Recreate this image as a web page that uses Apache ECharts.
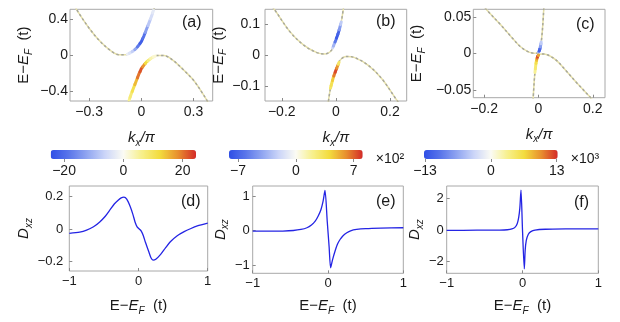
<!DOCTYPE html>
<html>
<head>
<meta charset="utf-8">
<script src="https://cdn.jsdelivr.net/npm/echarts@6/dist/echarts.min.js"></script>
<style>
  html, body { margin: 0; padding: 0; background: #fff; }
  #chart { width: 620px; height: 322px; }
</style>
</head>
<body>
<div id="chart"></div>
<script>
// ---- band structure, panel (a) ----
var kUpA = [-0.40, -0.36, -0.30, -0.24, -0.18, -0.13, -0.09, -0.06, -0.03, 0.0, 0.03, 0.06, 0.09];
var eUpA = [0.60, 0.47, 0.30, 0.16, 0.055, 0.005, 0.005, 0.03, 0.075, 0.15, 0.29, 0.44, 0.62];
var kLoA = [-0.09, -0.06, -0.03, 0.0, 0.03, 0.06, 0.09, 0.13, 0.18, 0.24, 0.30, 0.36, 0.40];
var eLoA = [-0.62, -0.44, -0.29, -0.15, -0.075, -0.03, -0.005, -0.005, -0.055, -0.16, -0.28, -0.45, -0.58];
var kBlueA = [-0.08, -0.06, -0.045, -0.03, -0.015, 0.0, 0.015, 0.03, 0.045, 0.06, 0.07];
var eBlueA = [0.01, 0.03, 0.05, 0.075, 0.11, 0.15, 0.215, 0.29, 0.365, 0.44, 0.50];
var dBlueA = [-2, -4, -7, -12, -18, -22, -19, -13, -8, -5, -3];
var kRedA = [-0.07, -0.06, -0.045, -0.03, -0.015, 0.0, 0.015, 0.03, 0.045, 0.06, 0.08];
var eRedA = [-0.50, -0.44, -0.365, -0.29, -0.215, -0.15, -0.11, -0.075, -0.05, -0.03, -0.01];
var dRedA = [6, 8, 11, 15, 20, 22, 18, 12, 7, 4, 2];

// ---- panel (b) ----
var kUpB = [-0.28, -0.226, -0.17, -0.12, -0.07, -0.04, -0.015, 0.0, 0.01, 0.02, 0.03];
var eUpB = [0.21, 0.146, 0.076, 0.033, 0.008, 0.004, 0.017, 0.049, 0.074, 0.107, 0.165];
var kLoB = [-0.03, -0.02, -0.01, 0.0, 0.015, 0.04, 0.07, 0.12, 0.17, 0.226, 0.28];
var eLoB = [-0.165, -0.107, -0.074, -0.049, -0.017, -0.004, -0.008, -0.033, -0.076, -0.146, -0.21];
var kBlueB = [-0.012, -0.006, 0.0, 0.005, 0.01, 0.015, 0.02];
var eBlueB = [0.023, 0.036, 0.049, 0.061, 0.074, 0.09, 0.107];
var dBlueB = [-2, -3.5, -6, -7.5, -7, -4.5, -2.5];
var kRedB = [-0.02, -0.015, -0.01, -0.005, 0.0, 0.006, 0.012];
var eRedB = [-0.107, -0.09, -0.074, -0.061, -0.049, -0.036, -0.023];
var dRedB = [3, 3.5, 4.5, 6.5, 7.5, 6, 3];

// ---- panel (c) ----
var kUpC = [-0.22, -0.19, -0.14, -0.10, -0.065, -0.035, -0.015, -0.003, 0.003, 0.008, 0.012, 0.016, 0.02];
var eUpC = [0.074, 0.06, 0.04, 0.023, 0.009, 0.002, 0.0005, 0.001, 0.004, 0.011, 0.022, 0.04, 0.065];
var kLoC = [-0.02, -0.016, -0.012, -0.008, -0.003, 0.003, 0.015, 0.035, 0.065, 0.10, 0.14, 0.19, 0.22];
var eLoC = [-0.065, -0.04, -0.022, -0.011, -0.004, -0.001, -0.0005, -0.002, -0.009, -0.023, -0.04, -0.06, -0.074];
var kBlueC = [0.0, 0.002, 0.004, 0.006, 0.008, 0.01];
var eBlueC = [0.0022, 0.003, 0.005, 0.0076, 0.011, 0.016];
var dBlueC = [-4, -8, -12, -11, -7, -4];
var kRedC = [-0.013, -0.01, -0.008, -0.006, -0.004, -0.002, 0.0];
var eRedC = [-0.026, -0.016, -0.011, -0.0076, -0.005, -0.003, -0.0022];
var dRedC = [3, 4.5, 6, 8, 11, 12.5, 9];

// ---- D_xz curves, panels (d) (e) (f) ----
var eD = [-1, -0.85, -0.75, -0.65, -0.56, -0.48, -0.41, -0.35, -0.29, -0.25, -0.21, -0.17, -0.12, -0.08, -0.05, -0.02, 0.015, 0.04, 0.07, 0.1, 0.15, 0.18, 0.21, 0.25, 0.32, 0.39, 0.46, 0.56, 0.66, 0.75, 0.85, 1.0];
var dD = [-0.025, -0.018, -0.006, 0.015, 0.045, 0.08, 0.12, 0.155, 0.18, 0.193, 0.197, 0.185, 0.14, 0.09, 0.045, 0.015, 0.0, -0.012, -0.04, -0.08, -0.14, -0.175, -0.19, -0.185, -0.155, -0.115, -0.077, -0.04, -0.015, 0.003, 0.02, 0.037];
var eE = [-1, -0.8, -0.6, -0.46, -0.36, -0.28, -0.22, -0.17, -0.13, -0.093, -0.065, -0.04, -0.01, 0.015, 0.035, 0.06, 0.093, 0.125, 0.16, 0.2, 0.25, 0.3, 0.38, 0.5, 0.7, 1.0];
var dE = [-0.02, -0.02, -0.015, 0.0, 0.03, 0.08, 0.16, 0.27, 0.42, 0.61, 0.85, 1.16, 0.26, -0.48, -1.08, -0.85, -0.6, -0.4, -0.26, -0.15, -0.067, -0.01, 0.03, 0.055, 0.07, 0.08];
var eF = [-1, -0.6, -0.3, -0.2, -0.14, -0.1, -0.07, -0.05, -0.035, -0.02, 0.0, 0.024, 0.035, 0.05, 0.077, 0.11, 0.165, 0.3, 0.6, 1.0];
var dF = [-0.02, -0.01, 0.0, 0.02, 0.07, 0.17, 0.4, 0.8, 1.4, 2.52, 0.0, -2.45, -1.3, -0.65, -0.27, -0.1, 0.0, 0.05, 0.07, 0.08];

// ---- tick labels ----
var xTicksA = [-0.3, 0, 0.3], yTicksA = [-0.4, 0, 0.4];
var xTicksB = [-0.2, 0, 0.2], yTicksB = [-0.1, 0, 0.1];
var xTicksC = [-0.2, 0, 0.2], yTicksC = [-0.05, 0, 0.05];
var xTicksBottom = [-1, 0, 1];
var yTicksD = [-0.2, 0, 0.2], yTicksE = [-1, 0, 1], yTicksF = [-2, 0, 2];
var cbTicksA = [-20, 0, 20], cbTicksB = [-7, 0, 7], cbTicksC = [-13, 0, 13];

var FONT = 'Liberation Sans, Arial, sans-serif';
var CMAP = ['#2f4fe6', '#5a76ea', '#91a6f1', '#ccd6f8', '#fbfbf4', '#f7f08c', '#f3dc3e', '#e8902e', '#d42a28'];

var myChart = echarts.init(document.getElementById('chart'));

function zip(a, b) { return a.map(function (v, i) { return [v, b[i]]; }); }
function fmt(v) { return v < 0 ? '\u2212' + String(-v) : String(v); }
function mid(p, q) { return [(p[0] + q[0]) / 2, (p[1] + q[1]) / 2]; }

var rich = {
  r: { fontFamily: FONT, fontSize: 15, lineHeight: 20, color: '#1a1a1a' },
  i: { fontFamily: FONT, fontSize: 15, lineHeight: 20, fontStyle: 'italic', color: '#1a1a1a' },
  s: { fontFamily: FONT, fontSize: 10, lineHeight: 10, fontStyle: 'italic', verticalAlign: 'bottom', color: '#1a1a1a' }
};
var NAME_E = '{r|E\u2212}{i|E}{s|F}{r|  (t)}';
var NAME_K = '{i|k}{s|x}{i|/\u03c0}';
var NAME_D = '{i|D}{s|xz}';

function axis(gi, min, max, ticks, opts) {
  return {
    type: 'value', gridIndex: gi, min: min, max: max,
    position: opts.pos,
    name: opts.name || '', nameLocation: 'middle', nameGap: opts.gap || 20,
    nameTextStyle: { rich: rich },
    axisLine: { show: false, onZero: false },
    splitLine: { show: false },
    axisTick: { show: true, inside: !opts.outTick, length: 3, customValues: ticks, lineStyle: { color: '#8a8a8a' } },
    axisLabel: {
      show: opts.labels !== false, customValues: ticks, formatter: fmt, margin: opts.margin || 4,
      fontFamily: FONT, fontSize: opts.size || 14, color: '#1a1a1a'
    }
  };
}

var grids = [
  { left: 70, top: 9.3, width: 142.7, height: 91.7 },
  { left: 265, top: 9.3, width: 141.7, height: 91.7 },
  { left: 473.3, top: 9.3, width: 131.7, height: 88.4 },
  { left: 69.3, top: 186, width: 138.4, height: 85 },
  { left: 252.7, top: 186, width: 150.6, height: 87.3 },
  { left: 446.7, top: 186, width: 151.6, height: 87.3 },
  { left: 50.7, top: 150, width: 145.3, height: 9 },
  { left: 229, top: 150, width: 133.7, height: 9 },
  { left: 424, top: 150, width: 133.7, height: 9 }
].map(function (g, i) {
  g.show = i < 6; g.borderColor = '#a8a8a8'; g.borderWidth = 1; g.backgroundColor = 'transparent';
  return g;
});

var xAxes = [
  axis(0, -0.41, 0.41, xTicksA, { pos: 'bottom', name: NAME_K, gap: 27 }),
  axis(1, -0.262, 0.262, xTicksB, { pos: 'bottom', name: NAME_K, gap: 27 }),
  axis(2, -0.24, 0.245, xTicksC, { pos: 'bottom', name: NAME_K, gap: 27 }),
  axis(3, -1, 1, xTicksBottom, { pos: 'bottom', name: NAME_E, gap: 25, size: 13 }),
  axis(4, -1, 1, xTicksBottom, { pos: 'bottom', name: NAME_E, gap: 23, size: 13 }),
  axis(5, -1, 1, xTicksBottom, { pos: 'bottom', name: NAME_E, gap: 23, size: 13 }),
  axis(6, -24.5, 24.5, cbTicksA, { pos: 'bottom', outTick: true, margin: 5 }),
  axis(7, -8.1, 8.1, cbTicksB, { pos: 'bottom', outTick: true, margin: 5 }),
  axis(8, -13.2, 13.2, cbTicksC, { pos: 'bottom', outTick: true, margin: 5 })
];
xAxes[7].name = '\u00d710\u00b2'; xAxes[7].nameLocation = 'end'; xAxes[7].nameGap = 13;
xAxes[8].name = '\u00d710\u00b3'; xAxes[8].nameLocation = 'end'; xAxes[8].nameGap = 13;
[7, 8].forEach(function (i) {
  xAxes[i].nameTextStyle = { fontFamily: FONT, fontSize: 14, color: '#1a1a1a', padding: [4, 0, 0, 0] };
});

var yAxes = [
  axis(0, -0.51, 0.51, yTicksA, { pos: 'left', name: NAME_E, gap: 36, margin: 2 }),
  axis(1, -0.148, 0.148, yTicksB, { pos: 'left', name: NAME_E, gap: 36, margin: 5 }),
  axis(2, -0.0608, 0.061, yTicksC, { pos: 'left', name: NAME_E, gap: 46, margin: 2 }),
  axis(3, -0.257, 0.266, yTicksD, { pos: 'left', name: NAME_D, gap: 34, size: 13, margin: 6 }),
  axis(4, -1.24, 1.29, yTicksE, { pos: 'left', name: NAME_D, gap: 22, size: 13, margin: 3 }),
  axis(5, -2.73, 2.78, yTicksF, { pos: 'left', name: NAME_D, gap: 20, size: 13, margin: 3 }),
  { type: 'value', gridIndex: 6, min: 0, max: 1, show: false },
  { type: 'value', gridIndex: 7, min: 0, max: 1, show: false },
  { type: 'value', gridIndex: 8, min: 0, max: 1, show: false }
];

var series = [];
function band(gi, ks, es) {
  series.push({
    type: 'line', xAxisIndex: gi, yAxisIndex: gi, data: zip(ks, es), smooth: 0.35,
    showSymbol: false, silent: true, z: 2, lineStyle: { color: '#e6e0a8', width: 1.5 }
  });
  series.push({
    type: 'line', xAxisIndex: gi, yAxisIndex: gi, data: zip(ks, es), smooth: 0.35,
    showSymbol: false, silent: true, z: 3, lineStyle: { color: '#a8a89c', width: 1.5, type: [2.5, 2.5] }
  });
}
function coloured(gi, ks, es, ds) {
  series.push({
    type: 'custom', xAxisIndex: gi, yAxisIndex: gi, clip: true, silent: true, z: 5,
    data: ks.map(function (k, i) { return [k, es[i], ds[i]]; }),
    encode: { x: 0, y: 1 },
    renderItem: function (params, api) {
      var i = params.dataIndex, n = ks.length;
      var p = api.coord([ks[i], es[i]]);
      var a = i > 0 ? mid(api.coord([ks[i - 1], es[i - 1]]), p) : p;
      var b = i < n - 1 ? mid(p, api.coord([ks[i + 1], es[i + 1]])) : p;
      return {
        type: 'polyline', shape: { points: [a, p, b] },
        style: { stroke: api.visual('color'), fill: null, lineWidth: 3, lineCap: 'round', lineJoin: 'round' }
      };
    }
  });
  return series.length - 1;
}
function dxz(gi, es, ds) {
  series.push({
    type: 'line', xAxisIndex: gi, yAxisIndex: gi, data: zip(es, ds), smooth: 0.25,
    showSymbol: false, silent: true, lineStyle: { color: '#2424e4', width: 1.3 }
  });
}

band(0, kUpA, eUpA); band(0, kLoA, eLoA);
var sA = [coloured(0, kBlueA, eBlueA, dBlueA), coloured(0, kRedA, eRedA, dRedA)];
band(1, kUpB, eUpB); band(1, kLoB, eLoB);
var sB = [coloured(1, kBlueB, eBlueB, dBlueB), coloured(1, kRedB, eRedB, dRedB)];
band(2, kUpC, eUpC); band(2, kLoC, eLoC);
var sC = [coloured(2, kBlueC, eBlueC, dBlueC), coloured(2, kRedC, eRedC, dRedC)];
dxz(3, eD, dD); dxz(4, eE, dE); dxz(5, eF, dF);

function cbar(idx, lim, g) {
  return {
    type: 'continuous', seriesIndex: idx, dimension: 2, min: -lim, max: lim,
    orient: 'horizontal', left: g.left, top: g.top, itemWidth: g.height, itemHeight: g.width,
    calculable: false, padding: 0, hoverLink: false, inRange: { color: CMAP }
  };
}

function tag(txt, x, y) {
  return { type: 'text', left: x, top: y, style: { text: txt, fontFamily: FONT, fontSize: 16, fill: '#1a1a1a' } };
}

myChart.setOption({
  animation: false,
  grid: grids,
  xAxis: xAxes,
  yAxis: yAxes,
  visualMap: [cbar(sA, 24.5, grids[6]), cbar(sB, 8.1, grids[7]), cbar(sC, 13.2, grids[8])],
  series: series,
  graphic: [
    tag('(a)', 182, 15), tag('(b)', 376, 14), tag('(c)', 576, 17),
    tag('(d)', 181, 194), tag('(e)', 376, 194), tag('(f)', 574, 195)
  ]
});
</script>
</body>
</html>
